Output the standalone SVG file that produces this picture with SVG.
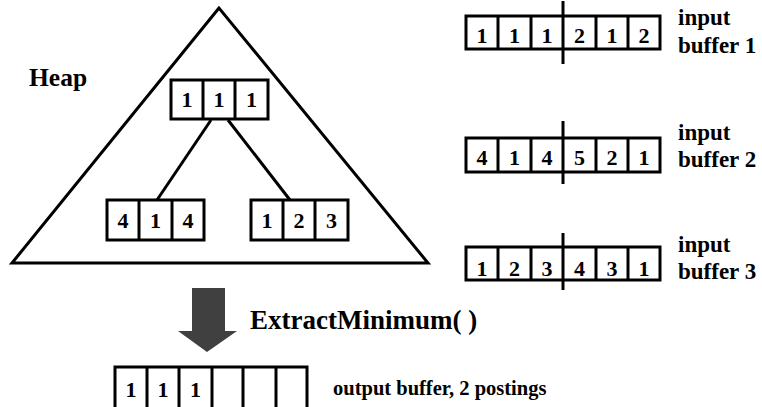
<svg xmlns="http://www.w3.org/2000/svg" width="762" height="407" viewBox="0 0 762 407">
<style>
.t{font-family:"Liberation Serif","DejaVu Serif","Times New Roman",serif;font-weight:bold;fill:#000}
.d{font-size:22px;text-anchor:middle}
.box{fill:#fff;stroke:#000;stroke-width:3}
.ln{stroke:#000;stroke-width:3;fill:none}
.lbl{font-size:23px}
</style>
<rect width="762" height="407" fill="#fff"/>
<g id="heap">
<polygon points="219,8 12,263 428,263" fill="#fff" stroke="#000" stroke-width="3" stroke-linejoin="miter"/>
<text class="t" x="29" y="86" font-size="25.5">Heap</text>
</g>
<g id="connectors">
<line class="ln" x1="211" y1="120" x2="157" y2="200" stroke-width="2.5"/>
<line class="ln" x1="228" y1="120" x2="290" y2="200" stroke-width="2.5"/>
<polygon points="192,288 225,288 225,331 237,331 207,352 178,331 192,331" fill="#404040"/>
</g>
<g id="root">
<rect class="box" x="171" y="80" width="97" height="39"/>
<line class="ln" x1="203" y1="80" x2="203" y2="119"/>
<line class="ln" x1="235" y1="80" x2="235" y2="119"/>
<text class="t d" x="187" y="107">1</text>
<text class="t d" x="219" y="107">1</text>
<text class="t d" x="251.5" y="107">1</text>
</g>
<g id="leftchild">
<rect class="box" x="107" y="200" width="97" height="40"/>
<line class="ln" x1="139" y1="200" x2="139" y2="240"/>
<line class="ln" x1="172" y1="200" x2="172" y2="240"/>
<text class="t d" x="123" y="228">4</text>
<text class="t d" x="155.5" y="228">1</text>
<text class="t d" x="188" y="228">4</text>
</g>
<g id="rightchild">
<rect class="box" x="251" y="200" width="97" height="40"/>
<line class="ln" x1="283" y1="200" x2="283" y2="240"/>
<line class="ln" x1="315" y1="200" x2="315" y2="240"/>
<text class="t d" x="267" y="228">1</text>
<text class="t d" x="299" y="228">2</text>
<text class="t d" x="331.5" y="228">3</text>
</g>
<g id="buffer1">
<rect class="box" x="466" y="16" width="194" height="33"/>
<line class="ln" x1="498" y1="16" x2="498" y2="49"/>
<line class="ln" x1="531" y1="16" x2="531" y2="49"/>
<line class="ln" x1="596" y1="16" x2="596" y2="49"/>
<line class="ln" x1="628" y1="16" x2="628" y2="49"/>
<line class="ln" x1="563" y1="1" x2="563" y2="64"/>
<text class="t d" x="482" y="43">1</text>
<text class="t d" x="514.5" y="43">1</text>
<text class="t d" x="547" y="43">1</text>
<text class="t d" x="579.5" y="43">2</text>
<text class="t d" x="612" y="43">1</text>
<text class="t d" x="644" y="43">2</text>
<text class="t lbl" x="678" y="25">input</text>
<text class="t lbl" x="678" y="53">buffer 1</text>
</g>
<g id="buffer2">
<rect class="box" x="466" y="138" width="194" height="34"/>
<line class="ln" x1="498" y1="138" x2="498" y2="172"/>
<line class="ln" x1="531" y1="138" x2="531" y2="172"/>
<line class="ln" x1="596" y1="138" x2="596" y2="172"/>
<line class="ln" x1="628" y1="138" x2="628" y2="172"/>
<line class="ln" x1="563" y1="121" x2="563" y2="184"/>
<text class="t d" x="482" y="165">4</text>
<text class="t d" x="514.5" y="165">1</text>
<text class="t d" x="547" y="165">4</text>
<text class="t d" x="579.5" y="165">5</text>
<text class="t d" x="612" y="165">2</text>
<text class="t d" x="644" y="165">1</text>
<text class="t lbl" x="678" y="140">input</text>
<text class="t lbl" x="678" y="167">buffer 2</text>
</g>
<g id="buffer3">
<rect class="box" x="466" y="247" width="194" height="33"/>
<line class="ln" x1="498" y1="247" x2="498" y2="280"/>
<line class="ln" x1="531" y1="247" x2="531" y2="280"/>
<line class="ln" x1="596" y1="247" x2="596" y2="280"/>
<line class="ln" x1="628" y1="247" x2="628" y2="280"/>
<line class="ln" x1="563" y1="233" x2="563" y2="290"/>
<text class="t d" x="482" y="276">1</text>
<text class="t d" x="514.5" y="276">2</text>
<text class="t d" x="547" y="276">3</text>
<text class="t d" x="579.5" y="276">4</text>
<text class="t d" x="612" y="276">3</text>
<text class="t d" x="644" y="276">1</text>
<text class="t lbl" x="678" y="252">input</text>
<text class="t lbl" x="678" y="279">buffer 3</text>
</g>
<g id="extract">
<text class="t" x="250" y="329" font-size="27">ExtractMinimum( )</text>
</g>
<g id="output">
<rect class="box" x="115" y="367" width="192" height="50"/>
<line class="ln" x1="147" y1="367" x2="147" y2="407"/>
<line class="ln" x1="179" y1="367" x2="179" y2="407"/>
<line class="ln" x1="212" y1="367" x2="212" y2="407"/>
<line class="ln" x1="243" y1="367" x2="243" y2="407"/>
<line class="ln" x1="276" y1="367" x2="276" y2="407"/>
<text class="t d" x="131" y="397">1</text>
<text class="t d" x="163" y="397">1</text>
<text class="t d" x="195.5" y="397">1</text>
<text class="t" x="333" y="395" font-size="20.5">output buffer, 2 postings</text>
</g>
</svg>
